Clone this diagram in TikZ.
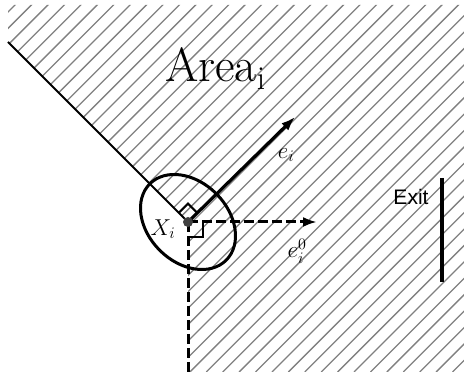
\RequirePackage{fix-cm}
\documentclass[tikz,border=0pt]{standalone}
\usepackage{fontspec}
\newfontfamily\exitfont{Liberation Sans}
\usetikzlibrary{arrows.meta}
\definecolor{hgray}{RGB}{128,128,128}
\definecolor{dotgray}{RGB}{64,64,64}
\tikzset{areafig/.style={x=1pt,y=1pt},
  hatchline/.style={hgray,line width=1.3pt},
  wall/.style={line width=2pt},
  dirarrow/.style={line width=3.2pt,-{Latex[length=14pt,width=10pt]}},
  dashline/.style={line width=3pt,dash pattern=on 10pt off 4pt},
  rightmark/.style={line width=2pt},
  mathlbl/.style={inner sep=0pt,font=\fontsize{23}{25}\selectfont}}

\begin{document}
\begin{tikzpicture}[areafig]
    \useasboundingbox (0,0) rectangle (464,372);
    \coordinate (X) at (188,150);
    % hatched area
    \begin{scope}
      \clip (8,367) -- (464,367) -- (464,0) -- (188,0) -- (X) -- (8,330) -- cycle;
      \foreach \k in {0,...,52} {
        \pgfmathsetmacro\c{20+16.42*\k}
        \draw[hatchline] ({\c-372},0) -- (\c,372);
      }
    \end{scope}
    \coordinate (wallend) at (8,330);
    \coordinate (bottom) at (188,0);
    \coordinate (ei) at (295,255);
    \coordinate (eizero) at (317,150);
    \draw[wall] (wallend) -- (X);
    \draw[dashline] (X) -- (bottom);
    \draw[dirarrow] (X) -- (ei);
    \draw[dashline,-{Latex[length=14pt,width=10pt]}] (X) -- (eizero);
    % right angle marks
    \draw[rightmark] ([shift={(135:13)}]X) -- ++(45:13) -- ++(-45:13);
    \draw[rightmark] ([shift={(0,-15)}]X) -- ++(15,0) -- ++(0,15);
    \draw[line width=3pt] (X) ellipse[x radius=54,y radius=40,rotate=-45];
    \fill[dotgray] (X) circle (5);
    \node[mathlbl] (Xlbl) at (163,143) {$X_i$};
    \node[mathlbl] (eilbl) at (286,217) {$e_i$};
    \node[mathlbl] (eizerolbl) at (297,121) {$e_i^0$};
    \node[inner sep=0pt,anchor=base west,font=\fontsize{48}{50}\selectfont] (area) at (165,290) {Area\textsubscript{i}};
    \node[inner sep=0pt,font=\exitfont\fontsize{21}{23}\selectfont] (exit) at (411,175) {Exit};
    \coordinate (exittop) at (442,194);
    \coordinate (exitbot) at (442,90);
    \draw[line width=4pt] (exittop) -- (exitbot);
\end{tikzpicture}
\end{document}
